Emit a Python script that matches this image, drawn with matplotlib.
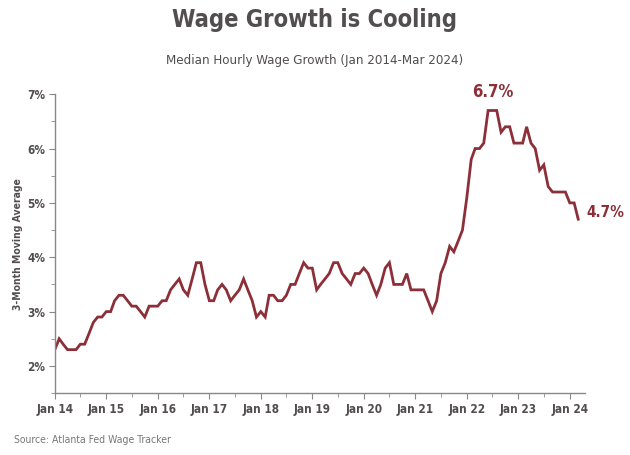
import matplotlib
matplotlib.use("Agg")
import matplotlib.pyplot as plt
import matplotlib.dates as mdates
from matplotlib.ticker import MultipleLocator, FuncFormatter
import pandas as pd

# 3-month moving average of median hourly wage growth, Jan 2014 - Mar 2024
wage_2014 = [2.3, 2.5, 2.4, 2.3, 2.3, 2.3, 2.4, 2.4, 2.6, 2.8, 2.9, 2.9]
wage_2015 = [3.0, 3.0, 3.2, 3.3, 3.3, 3.2, 3.1, 3.1, 3.0, 2.9, 3.1, 3.1]
wage_2016 = [3.1, 3.2, 3.2, 3.4, 3.5, 3.6, 3.4, 3.3, 3.6, 3.9, 3.9, 3.5]
wage_2017 = [3.2, 3.2, 3.4, 3.5, 3.4, 3.2, 3.3, 3.4, 3.6, 3.4, 3.2, 2.9]
wage_2018 = [3.0, 2.9, 3.3, 3.3, 3.2, 3.2, 3.3, 3.5, 3.5, 3.7, 3.9, 3.8]
wage_2019 = [3.8, 3.4, 3.5, 3.6, 3.7, 3.9, 3.9, 3.7, 3.6, 3.5, 3.7, 3.7]
wage_2020 = [3.8, 3.7, 3.5, 3.3, 3.5, 3.8, 3.9, 3.5, 3.5, 3.5, 3.7, 3.4]
wage_2021 = [3.4, 3.4, 3.4, 3.2, 3.0, 3.2, 3.7, 3.9, 4.2, 4.1, 4.3, 4.5]
wage_2022 = [5.1, 5.8, 6.0, 6.0, 6.1, 6.7, 6.7, 6.7, 6.3, 6.4, 6.4, 6.1]
wage_2023 = [6.1, 6.1, 6.4, 6.1, 6.0, 5.6, 5.7, 5.3, 5.2, 5.2, 5.2, 5.2]
wage_2024 = [5.0, 5.0, 4.7]

wages = (wage_2014 + wage_2015 + wage_2016 + wage_2017 + wage_2018 + wage_2019
         + wage_2020 + wage_2021 + wage_2022 + wage_2023 + wage_2024)
months = pd.date_range("2014-01-01", periods=len(wages), freq="MS")

peak_idx = 102  # Jul 2022, middle of the 6.7% plateau

line_col = "#8c2f39"
text_col = "#524d4f"
axis_col = "#888888"

plt.rcParams['font.family'] = ['DejaVu Sans']
plt.rcParams['font.stretch'] = 'condensed'

fig = plt.figure(figsize=(6.3, 4.55), dpi=100)
ax = fig.add_axes([0.087, 0.136, 0.842, 0.657])

ax.plot(months, wages, color=line_col, linewidth=2.0, solid_joinstyle="miter")

ax.set_xlim(pd.Timestamp("2014-01-01"), pd.Timestamp("2024-04-20"))
ax.set_ylim(1.5, 7.0)

ax.xaxis.set_major_locator(mdates.YearLocator())
ax.xaxis.set_minor_locator(mdates.MonthLocator(bymonth=7))
ax.xaxis.set_major_formatter(mdates.DateFormatter("Jan %y"))
ax.yaxis.set_major_locator(MultipleLocator(1))
ax.yaxis.set_minor_locator(MultipleLocator(0.5))
ax.yaxis.set_major_formatter(FuncFormatter(lambda v, p: f"{v:.0f}%"))

for s in ["top", "right"]:
    ax.spines[s].set_visible(False)
for s in ["left", "bottom"]:
    ax.spines[s].set_color(axis_col)
    ax.spines[s].set_linewidth(1.0)

ax.tick_params(which="both", color=axis_col, direction="out")
ax.tick_params(which="major", length=4, labelsize=8.5, labelcolor=text_col, pad=3)
ax.tick_params(which="minor", length=3)
for lab in ax.get_xticklabels() + ax.get_yticklabels():
    lab.set_fontweight("bold")

ax.set_ylabel("3-Month Moving Average", fontsize=7.5, color=text_col,
              fontweight="bold", labelpad=3)

ax.annotate(f"{wages[peak_idx]:.1f}%", (months[peak_idx], wages[peak_idx]),
            xytext=(0, 7), textcoords="offset points", ha="center", va="bottom",
            fontsize=12, fontweight="bold", color=line_col)
ax.annotate(f"{wages[-1]:.1f}%", (months[-1], wages[-1]),
            xytext=(6, 5), textcoords="offset points", ha="left", va="center",
            fontsize=11, fontweight="bold", color=line_col, annotation_clip=False)

fig.text(0.5, 0.955, "Wage Growth is Cooling", ha="center", va="center",
         fontsize=17, fontweight="bold", color=text_col)
fig.text(0.5, 0.868, "Median Hourly Wage Growth (Jan 2014-Mar 2024)", ha="center",
         va="center", fontsize=9.5, color=text_col)
fig.text(0.022, 0.033, "Source: Atlanta Fed Wage Tracker", ha="left", va="center",
         fontsize=7.5, color="#777777")

fig.savefig("out.png", dpi=100)
